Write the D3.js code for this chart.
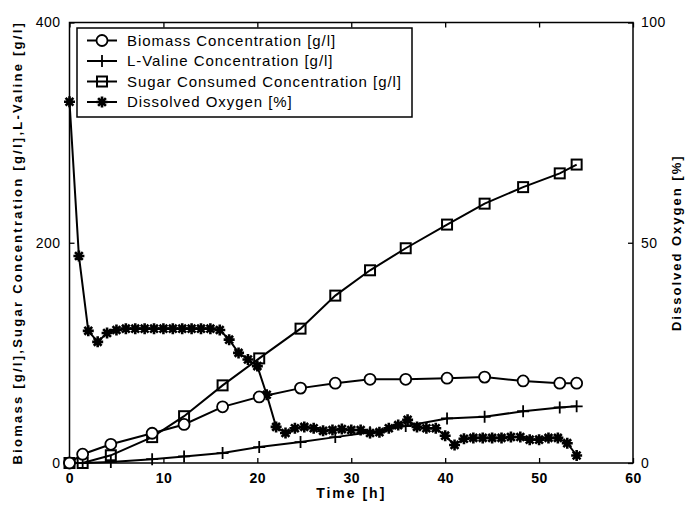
<!DOCTYPE html>
<html>
<head>
<meta charset="utf-8">
<script src="https://cdn.jsdelivr.net/npm/d3@7"></script>
<style>
  body { margin: 0; background: #fff; }
  svg text { font-family: "Liberation Sans", Arial, sans-serif; fill: #000; }
</style>
</head>
<body>
<svg id="chart" width="686" height="507"></svg>
<script>
// sampling times [h] for the offline measurements
var sampleHours = [0, 1.4, 4.4, 8.8, 12.2, 16.3, 20.2, 24.6, 28.3, 32, 35.8, 40.2, 44.2, 48.3, 52.2, 54];
var biomass = [0, 8, 17, 27, 35, 51, 60, 68, 72.5, 76, 76, 77, 78, 74.5, 72.5, 72.5];
var valine = [0, 0, 1, 3.5, 6, 9, 14.5, 19, 23.5, 28, 33.5, 40.5, 42, 47, 50.5, 51.5];
var sugar = [0, 0, 7, 23.5, 42.5, 70.5, 95, 122, 152, 175, 195, 216.5, 235.5, 250.5, 263, 271];

// online dissolved oxygen, one reading per hour from 0 to 54 h
var doHours = d3.range(0, 55);
var dissolvedOxygen = [82, 47, 30, 27.5, 29.5, 30.2, 30.5, 30.5, 30.5, 30.5,
  30.5, 30.5, 30.5, 30.5, 30.5, 30.5, 30.2, 28, 25, 23.5,
  22, 15.5, 8.2, 6.8, 7.9, 8.2, 7.9, 7.3, 7.5, 7.7,
  7.5, 7.5, 6.8, 7.0, 7.9, 8.6, 9.8, 8.2, 7.9, 7.9,
  6.2, 4.1, 5.5, 5.7, 5.7, 5.7, 5.7, 5.9, 5.9, 5.3,
  5.3, 5.7, 5.7, 4.5, 1.7];

var xTicks = [0, 10, 20, 30, 40, 50, 60];
var yLeftTicks = [0, 200, 400];
var yRightTicks = [0, 50, 100];

var legendLabels = ["Biomass Concentration [g/l]", "L-Valine Concentration [g/l]",
  "Sugar Consumed Concentration [g/l]", "Dissolved Oxygen [%]"];

var margin = {left: 69.5, right: 53, top: 22.5, bottom: 44},
  width = 686 - margin.left - margin.right,
  height = 507 - margin.top - margin.bottom;

var svg = d3.select("#chart");
var g = svg.append("g").attr("transform", "translate(" + [margin.left, margin.top] + ")");

var x = d3.scaleLinear().domain([0, 60]).range([0, width]);
var yL = d3.scaleLinear().domain([0, 400]).range([height, 0]);
var yR = d3.scaleLinear().domain([0, 100]).range([height, 0]);

// frame with inward ticks on all four sides
g.append("rect").attr("width", width).attr("height", height)
  .attr("fill", "none").attr("stroke", "#000").attr("stroke-width", 1.5);

var tickLen = 5;
function drawAxis(axis, transform, labelStyle) {
  var a = g.append("g").attr("transform", transform).call(axis);
  a.select(".domain").remove();
  a.selectAll("line").attr("stroke", "#000").attr("stroke-width", 1.3);
  a.selectAll("text").style("font-size", labelStyle.size).style("font-weight", labelStyle.weight)
    .style("letter-spacing", labelStyle.spacing);
  return a;
}
var xLabels = {size: "14px", weight: "bold", spacing: "0.5px"};
var yLabels = {size: "14px", weight: "normal", spacing: "0.5px"};
var noLabels = {size: "0px", weight: "normal", spacing: "0"};

drawAxis(d3.axisBottom(x).tickValues(xTicks).tickSize(-tickLen).tickPadding(tickLen + 5),
  "translate(0," + height + ")", xLabels);
drawAxis(d3.axisTop(x).tickValues(xTicks).tickSize(-tickLen).tickFormat(""),
  "translate(0,0)", noLabels);
drawAxis(d3.axisLeft(yL).tickValues(yLeftTicks).tickSize(-tickLen).tickPadding(tickLen + 4),
  "translate(0,0)", yLabels);
drawAxis(d3.axisRight(yR).tickValues(yRightTicks).tickSize(-tickLen).tickPadding(tickLen + 3),
  "translate(" + width + ",0)", yLabels);

// axis titles
svg.append("text").attr("x", margin.left + width / 2).attr("y", 498)
  .attr("text-anchor", "middle").style("font-size", "14px").style("font-weight", "bold")
  .style("letter-spacing", "2px").text("Time [h]");
svg.append("text").attr("transform", "translate(22," + (margin.top + height / 2) + ") rotate(-90)")
  .attr("text-anchor", "middle").style("font-size", "13px").style("font-weight", "bold")
  .style("letter-spacing", "2.25px").text("Biomass [g/l],Sugar Concentration [g/l],L-Valine [g/l]");
svg.append("text").attr("transform", "translate(681," + (margin.top + height / 2) + ") rotate(-90)")
  .attr("text-anchor", "middle").style("font-size", "13px").style("font-weight", "bold")
  .style("letter-spacing", "2px").text("Dissolved Oxygen [%]");

// marker painters
function circleMarker(sel) {
  sel.append("circle").attr("r", 5.5).attr("fill", "#fff").attr("stroke", "#000").attr("stroke-width", 1.8);
}
function crossMarker(sel) {
  sel.append("path").attr("d", "M-6,0H6M0,-6V6").attr("stroke", "#000").attr("stroke-width", 1.8);
}
function squareMarker(sel) {
  sel.append("rect").attr("x", -5).attr("y", -5).attr("width", 10).attr("height", 10)
    .attr("fill", "none").attr("stroke", "#000").attr("stroke-width", 2);
}
function starMarker(sel) {
  sel.append("path").attr("d", "M-5.5,0H5.5M0,-5.5V5.5M-3.9,-3.9L3.9,3.9M-3.9,3.9L3.9,-3.9")
    .attr("stroke", "#000").attr("stroke-width", 2.6);
}

function drawSeries(xs, ys, xScale, yScale, marker) {
  var pts = xs.map(function (t, i) { return [xScale(t), yScale(ys[i])]; });
  var s = g.append("g");
  s.append("path").attr("d", d3.line()(pts)).attr("fill", "none")
    .attr("stroke", "#000").attr("stroke-width", 2);
  s.selectAll("g.m").data(pts).enter().append("g").attr("class", "m")
    .attr("transform", function (d) { return "translate(" + d + ")"; })
    .each(function () { marker(d3.select(this)); });
}

drawSeries(doHours, dissolvedOxygen, x, yR, starMarker);
drawSeries(sampleHours, valine, x, yL, crossMarker);
drawSeries(sampleHours, sugar, x, yL, squareMarker);
drawSeries(sampleHours, biomass, x, yL, circleMarker);

// legend
var legend = svg.append("g").attr("transform", "translate(77,28)");
legend.append("rect").attr("width", 335).attr("height", 89)
  .attr("fill", "#fff").attr("stroke", "#000").attr("stroke-width", 1.5);
var markers = [circleMarker, crossMarker, squareMarker, starMarker];
legendLabels.forEach(function (label, i) {
  var row = legend.append("g").attr("transform", "translate(0," + (12.5 + i * 20.5) + ")");
  row.append("line").attr("x1", 10).attr("x2", 40).attr("stroke", "#000").attr("stroke-width", 2);
  var m = row.append("g").attr("transform", "translate(25,0)");
  markers[i](m);
  row.append("text").attr("x", 50).attr("dy", "0.35em").style("font-size", "15px")
    .style("letter-spacing", "0.95px").text(label);
});
</script>
</body>
</html>
